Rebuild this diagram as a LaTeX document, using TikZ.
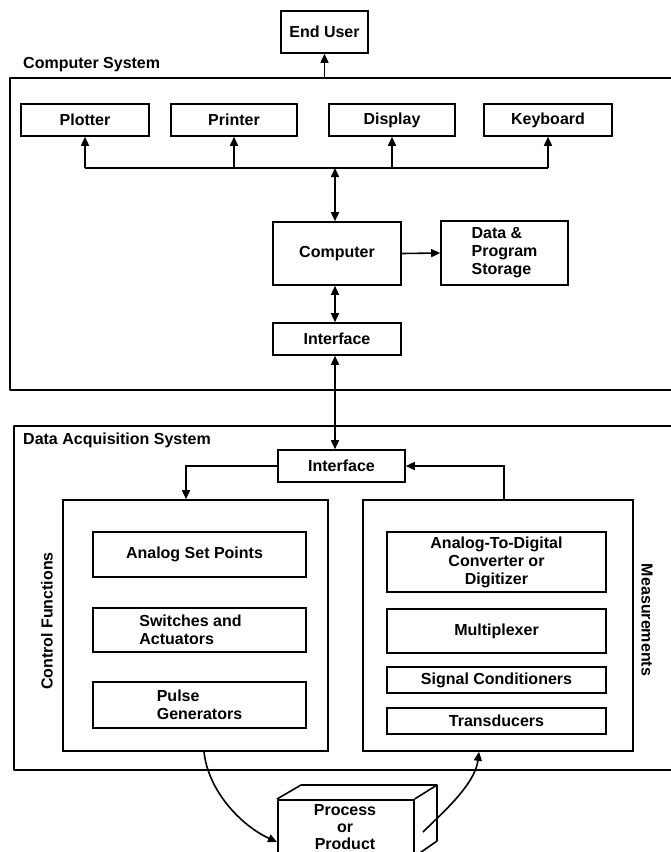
\documentclass[tikz,border=0pt]{standalone}
\usepackage{fontspec}
\setmainfont{Liberation Sans}
\usetikzlibrary{arrows.meta,calc}
\newcommand{\mybox}[7][]{%
  \node[box,#1,minimum width={(#5-#3)*1pt},minimum height={(#6-#4)*1pt}] (#2) at ({(#3+#5)/2},{(#4+#6)/2}) {#7};}
\begin{document}
\begin{tikzpicture}[x=1pt,y=-1pt,
  every node/.style={font=\fontsize{16}{18}\selectfont\bfseries, text=black},
  box/.style={draw=black, line width=1.6pt, inner sep=0pt, align=center},
  frame/.style={draw=black, line width=1.6pt, line join=round},
  lbl/.style={inner sep=0pt},
  arr/.style={draw=black, line width=1.6pt, -{Triangle[length=9pt,width=8pt]}},
  darr/.style={draw=black, line width=1.6pt, {Triangle[length=9pt,width=8pt]}-{Triangle[length=9pt,width=8pt]}}
]
\useasboundingbox (0,0) rectangle (670,852);

% ---------- Computer system ----------
\mybox{enduser}{281}{11}{368}{53}{End User}
\node[lbl, anchor=west] (cslabel) at (23,65) {Computer System};
\coordinate (csTL) at (10,78);
\coordinate (csBL) at (10,390);
\coordinate (csTR) at (672,78);
\coordinate (csBR) at (672,390);
\draw[frame] (csTR) -- (csTL) -- (csBL) -- (csBR);

\mybox{plotter}{21}{104}{149}{136}{Plotter}
\mybox{printer}{171}{104}{297}{136}{Printer}
\mybox{display}{329}{104}{455}{136}{Display}
\mybox{keyboard}{484}{104}{612}{136}{Keyboard}

\mybox{computer}{273}{222}{401}{285}{Computer}
\mybox[align=left]{storage}{441}{221}{568}{285}{Data \&\\Program\\Storage}
\mybox{ifaceA}{273}{323}{401}{355}{Interface}

\coordinate (bus) at (0,168);
\draw[frame] (plotter.south |- bus) -- (keyboard.south |- bus);
\draw[arr] (plotter.south |- bus) -- (plotter.south);
\draw[arr] (printer.south |- bus) -- (printer.south);
\draw[arr] (display.south |- bus) -- (display.south);
\draw[arr] (keyboard.south |- bus) -- (keyboard.south);
\draw[darr] ([xshift=-2pt]computer.north |- bus) -- ([xshift=-2pt]computer.north);
\draw[arr] (enduser.south |- csTL) -- (enduser.south);
\draw[arr] (computer.east) -- (storage.west);
\draw[darr] ([xshift=-2pt]computer.south) -- ([xshift=-2pt]ifaceA.north);

% ---------- Data acquisition system ----------
\coordinate (dsTL) at (14,426);
\coordinate (dsBL) at (14,770);
\coordinate (dsTR) at (672,426);
\coordinate (dsBR) at (672,770);
\draw[frame] (dsTR) -- (dsTL) -- (dsBL) -- (dsBR);
\node[lbl, anchor=west] (dslabel) at (23,440) {Data Acquisition System};

\mybox{ifaceB}{278}{450}{405}{482}{Interface}
\draw[darr] ([xshift=-2pt]ifaceA.south) -- ([xshift=-2pt]ifaceA.south |- ifaceB.north);

\mybox{control}{63}{500}{328}{751}{}
\mybox{meas}{363}{500}{633}{751}{}
\node[lbl, rotate=90] (ctllabel) at (47,621) {Control Functions};
\node[lbl, rotate=-90] (measlabel) at (647,620) {Measurements};

\draw[arr] (ifaceB.west) -| ([xshift=-9.5pt]control.north);
\draw[arr] ([xshift=6pt]meas.north) |- (ifaceB.east);

\mybox{asp}{93}{532}{306}{577}{\hspace*{-10pt}Analog Set Points}
\mybox[align=left]{switches}{93}{608}{306}{652}{\hspace*{-18pt}Switches and\\\hspace*{-18pt}Actuators}
\mybox[align=left]{pulse}{93}{682}{306}{728}{Pulse\\Generators}

\mybox{adc}{387}{532}{606}{592}{Analog-To-Digital\\Converter or\\Digitizer}
\mybox{mux}{387}{609}{606}{653}{Multiplexer}
\mybox{sig}{387}{667}{606}{693}{Signal Conditioners}
\mybox{trans}{387}{708}{606}{734}{Transducers}

% ---------- Process or product ----------
\node[box, minimum width=136pt, minimum height=56pt, anchor=north west] (process) at (277,799) {};
\draw[frame] (process.north west) -- ++(24,-14) -- ++(136,0) coordinate (pbr) -- (process.north east);
\draw[frame] (pbr) -- ++(0,56) -- (process.south east);
\node[align=center, font=\fontsize{16}{17}\selectfont\bfseries] (ptext) at (345,827) {Process\\or\\Product};

\coordinate (pin) at ([yshift=-43pt]process.north west);
\coordinate (pout) at (423,832);
\draw[arr] ([xshift=8.5pt]control.south) .. controls (208,790) and (240,825) .. (pin);
\draw[arr] (pout) .. controls (440,815) and (475,785) .. ([xshift=-19pt]meas.south);
\end{tikzpicture}
\end{document}
